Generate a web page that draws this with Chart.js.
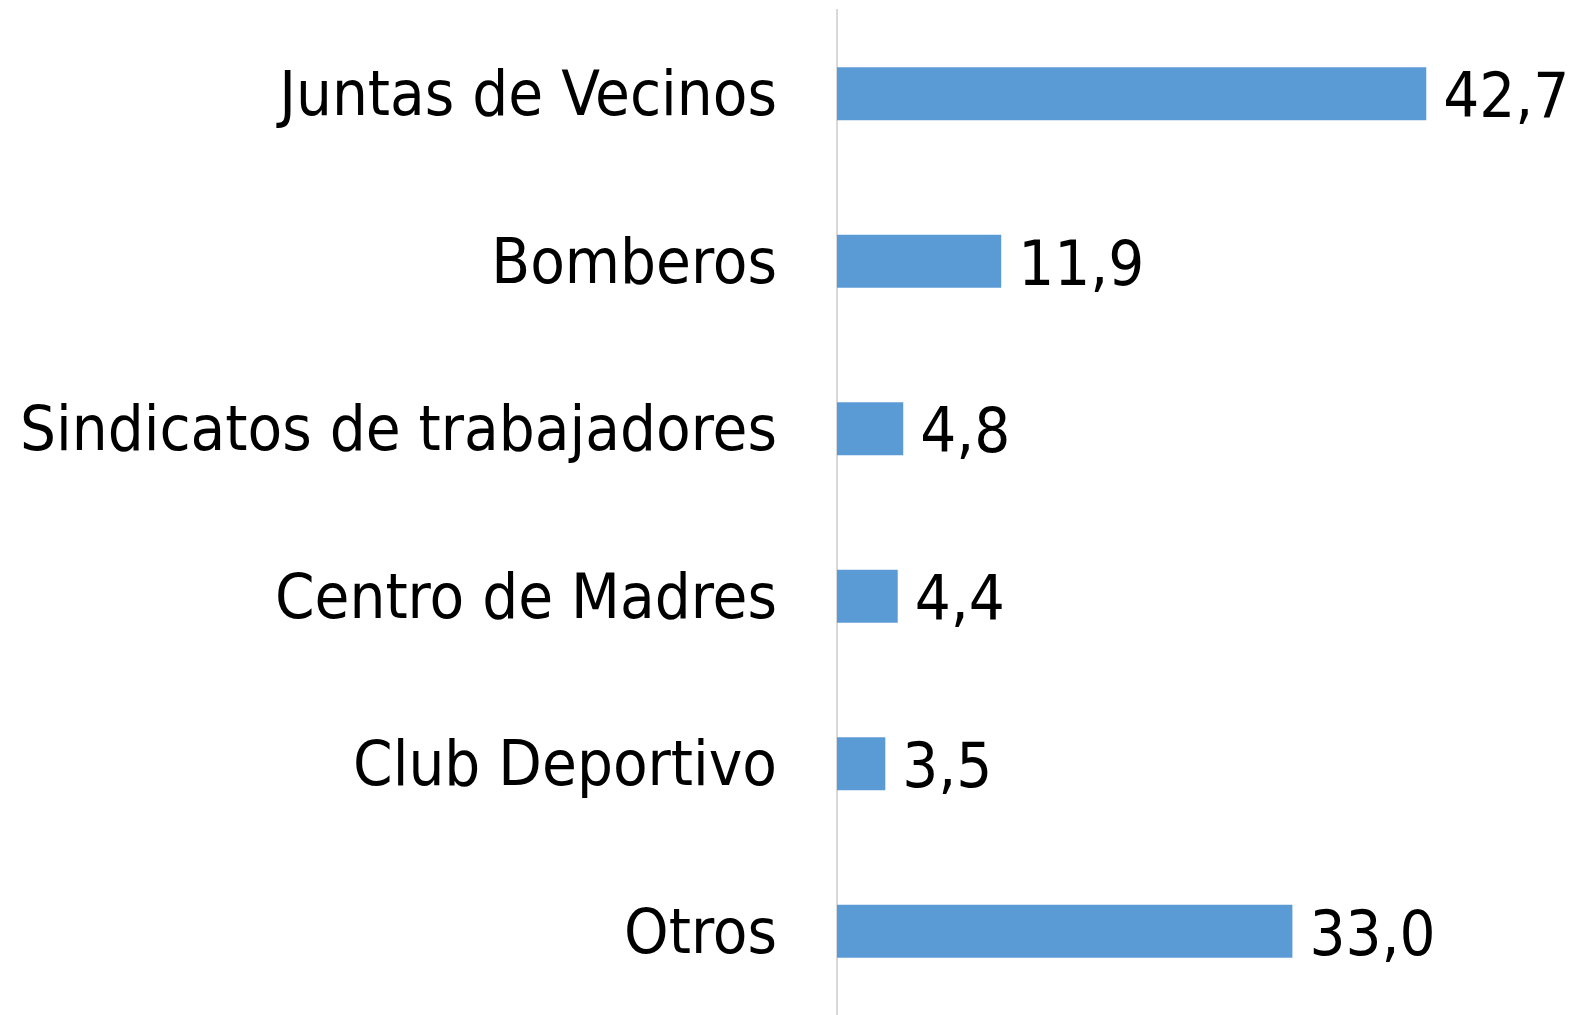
<!DOCTYPE html>
<html>
<head>
<meta charset="utf-8">
<script src="https://cdn.jsdelivr.net/npm/chart.js@4.4.1/dist/chart.umd.min.js"></script>
<style>
    html, body { margin: 0; padding: 0; background: #fff; }
    #wrap { width: 1575px; height: 1015px; position: relative; }
</style>
</head>
<body>
<div id="wrap"><canvas id="chart"></canvas></div>
<script>
var categories = ['Juntas de Vecinos', 'Bomberos', 'Sindicatos de trabajadores', 'Centro de Madres', 'Club Deportivo', 'Otros'];
var values = [42.7, 11.9, 4.8, 4.4, 3.5, 33.0];

var fontFamily = '"DejaVu Sans Condensed", "DejaVu Sans", sans-serif';
var fontSize = 63;

function fmt(v) {
    return v.toFixed(1).replace('.', ',');
}

var valueLabels = {
    id: 'valueLabels',
    afterDatasetsDraw: function (chart) {
        var ctx = chart.ctx;
        var meta = chart.getDatasetMeta(0);
        ctx.save();
        ctx.font = fontSize + 'px ' + fontFamily;
        ctx.fillStyle = '#000';
        ctx.textAlign = 'left';
        ctx.textBaseline = 'middle';
        meta.data.forEach(function (bar, i) {
            ctx.fillText(fmt(values[i]), bar.x + 17, bar.y + 7);
        });
        ctx.restore();
    }
};

new Chart(document.getElementById('chart').getContext('2d'), {
    type: 'bar',
    data: {
        labels: categories,
        datasets: [{
            data: values,
            backgroundColor: '#5b9bd5',
            borderWidth: 0,
            barPercentage: 0.315,
            categoryPercentage: 1
        }]
    },
    options: {
        indexAxis: 'y',
        responsive: true,
        maintainAspectRatio: false,
        animation: false,
        layout: { padding: { top: 10, right: 117, bottom: -3, left: 0 } },
        plugins: { legend: { display: false }, tooltip: { enabled: false } },
        scales: {
            x: { display: false, min: 0, max: 45 },
            y: {
                afterFit: function (scale) {
                    scale.width = 837;
                    scale.paddingTop = 0;
                    scale.paddingBottom = 0;
                },
                grid: { display: false, drawTicks: false },
                border: { display: true, color: '#d9d9d9', width: 2 },
                ticks: {
                    color: '#000',
                    padding: 60,
                    labelOffset: 5,
                    font: { family: fontFamily, size: fontSize }
                }
            }
        }
    },
    plugins: [valueLabels]
});
</script>
</body>
</html>
